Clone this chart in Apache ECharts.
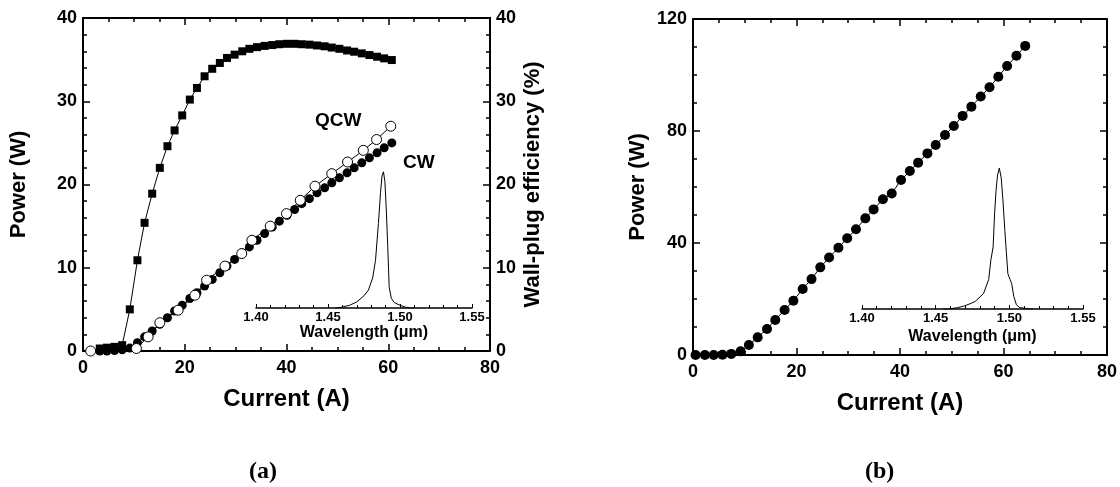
<!DOCTYPE html>
<html>
<head>
<meta charset="utf-8">
<script src="https://cdn.jsdelivr.net/npm/echarts@6/dist/echarts.min.js"></script>
<style>
  html, body { margin: 0; padding: 0; background: #fff; }
  #chart { width: 1120px; height: 487px; }
</style>
</head>
<body>
<div id="chart"></div>
<script>
// (a) wall-plug efficiency and CW power share the same currents
const cwCurrent = [3.3, 4.7, 6.2, 7.7, 9.2, 10.7, 12.1, 13.6, 15.1, 16.6, 18.0, 19.5, 21.0, 22.4, 23.9, 25.4, 26.9, 28.3, 29.8, 31.3,
  32.7, 34.2, 35.7, 37.2, 38.6, 40.1, 41.6, 43.0, 44.5, 46.0, 47.5, 48.9, 50.4, 51.9, 53.3, 54.8, 56.3, 57.8, 59.2, 60.7];
const effValues = [0.3, 0.4, 0.5, 0.7, 5.0, 10.9, 15.4, 18.9, 22.0, 24.6, 26.5, 28.3, 30.2, 31.6, 33.0, 33.9, 34.6, 35.2, 35.6, 36.0,
  36.3, 36.5, 36.65, 36.75, 36.85, 36.9, 36.9, 36.85, 36.8, 36.7, 36.6, 36.45, 36.3, 36.1, 35.95, 35.75, 35.55, 35.35, 35.15, 34.95];
const cwPower = [0, 0, 0.05, 0.15, 0.35, 1.0, 1.7, 2.4, 3.2, 4.0, 4.8, 5.5, 6.3, 7.0, 7.8, 8.6, 9.4, 10.2, 11.0, 11.8,
  12.5, 13.3, 14.1, 14.9, 15.6, 16.3, 17.0, 17.7, 18.3, 19.0, 19.6, 20.2, 20.8, 21.4, 22.0, 22.6, 23.2, 23.8, 24.4, 25.0];
const qcwCurrent = [1.5, 10.5, 12.8, 15.1, 18.7, 22.0, 24.3, 27.9, 31.2, 33.2, 36.8, 40.0, 42.7, 45.6, 48.9, 52.0, 55.1, 57.7, 60.5];
const qcwPower = [0, 0.3, 1.7, 3.4, 4.9, 6.7, 8.5, 10.2, 11.7, 13.3, 15.0, 16.5, 18.1, 19.8, 21.3, 22.7, 24.1, 25.4, 27.0];

// (a) inset spectrum
const specAWave = [1.455, 1.459, 1.465, 1.470, 1.475, 1.478, 1.481, 1.483, 1.485, 1.4865, 1.4875, 1.4885, 1.4895, 1.4905,
  1.4915, 1.4925, 1.494, 1.496, 1.500, 1.504, 1.507, 1.510];
const specAInt = [0, 0.005, 0.02, 0.045, 0.09, 0.13, 0.22, 0.35, 0.62, 0.85, 0.97, 1.0, 0.93, 0.72,
  0.45, 0.15, 0.07, 0.04, 0.02, 0.005, 0, 0];

// (b) power vs current
const bCurrent = [0.5, 2.3, 4.0, 5.7, 7.4, 9.2, 10.8, 12.5, 14.3, 15.9, 17.7, 19.4, 21.2, 22.9, 24.6, 26.3, 28.1, 29.8, 31.5,
  33.3, 34.9, 36.7, 38.4, 40.2, 41.9, 43.5, 45.3, 46.9, 48.7, 50.4, 52.1, 53.8, 55.6, 57.3, 59.0, 60.7, 62.5, 64.2];
const bPower = [0, 0, 0, 0.1, 0.4, 1.3, 3.6, 6.3, 9.3, 12.5, 16.1, 19.4, 23.6, 27.1, 31.3, 34.8, 38.3, 41.7, 44.9,
  48.8, 52.0, 55.6, 57.7, 62.5, 65.7, 68.7, 72.0, 75.0, 78.6, 81.8, 85.4, 88.7, 92.3, 95.6, 99.4, 103.2, 106.9, 110.4];

// (b) inset spectrum
const specBWave = [1.455, 1.459, 1.465, 1.469, 1.474, 1.477, 1.4825, 1.486, 1.4875, 1.489, 1.490, 1.491, 1.492, 1.4932,
  1.4945, 1.4956, 1.497, 1.498, 1.499, 1.5005, 1.5016, 1.503, 1.5048, 1.507, 1.5135, 1.516];
const specBInt = [0, 0, 0.01, 0.02, 0.04, 0.055, 0.11, 0.21, 0.35, 0.44, 0.68, 0.84, 0.95, 1.0,
  0.93, 0.78, 0.55, 0.40, 0.25, 0.21, 0.18, 0.09, 0.03, 0.01, 0, 0];

const xTicks = [0, 20, 40, 60, 80];
const font = "'Liberation Sans', Arial, sans-serif";

const zip = (a, b) => a.map((v, i) => [v, b[i]]);

// onZero off, otherwise the top / right axes get pulled onto the 0 line
const boxLine = { show: true, onZero: false, lineStyle: { color: "#000", width: 2 } };
const tick = { show: true, inside: true, length: 7, lineStyle: { color: "#000", width: 1.5 } };
const minor = (n) => ({ show: true, splitNumber: n, length: 4, lineStyle: { color: "#000", width: 1.5 } });
const tickLabel = { color: "#000", fontSize: 18, fontWeight: "bold", fontFamily: font };
const nameStyle = { color: "#000", fontSize: 22, fontWeight: "bold", fontFamily: font };

function mainX(grid, pos, showLabel, name) {
  return {
    type: "value", gridIndex: grid, position: pos, min: xTicks[0], max: xTicks[xTicks.length - 1], interval: 20,
    axisLine: boxLine, axisTick: tick, minorTick: minor(4), splitLine: { show: false },
    axisLabel: Object.assign({ show: showLabel, margin: 8 }, tickLabel),
    name: name, nameLocation: "middle", nameGap: 36,
    nameTextStyle: Object.assign({}, nameStyle, { fontSize: 24 }),
  };
}
function mainY(grid, pos, max, interval, minorSplit, showLabel, name, gap) {
  return {
    type: "value", gridIndex: grid, position: pos, min: 0, max: max, interval: interval,
    axisLine: boxLine, axisTick: tick, minorTick: minor(minorSplit), splitLine: { show: false },
    axisLabel: Object.assign({ show: showLabel, margin: 6 }, tickLabel),
    name: name, nameLocation: "middle", nameRotate: 90, nameGap: gap, nameTextStyle: nameStyle,
  };
}
function insetX(grid, gap) {
  return {
    type: "value", gridIndex: grid, min: 1.4, max: 1.55, interval: 0.05,
    axisLine: { show: true, onZero: false, lineStyle: { color: "#000", width: 1.5 } },
    axisTick: { show: true, inside: true, length: 4, lineStyle: { color: "#000", width: 1 } },
    minorTick: { show: true, splitNumber: 5, length: 3, lineStyle: { color: "#000", width: 1 } },
    splitLine: { show: false },
    axisLabel: { color: "#000", fontSize: 13, fontWeight: "bold", fontFamily: font, margin: 3,
      formatter: (v) => v.toFixed(2) },
    name: "Wavelength (\u03bcm)", nameLocation: "middle", nameGap: gap,
    nameTextStyle: { color: "#000", fontSize: 16, fontWeight: "bold", fontFamily: font },
  };
}
const insetY = (grid) => ({ type: "value", gridIndex: grid, min: 0, max: 1.05, show: false });

const chart = echarts.init(document.getElementById("chart"));
chart.setOption({
  animation: false,
  grid: [
    { left: 83, top: 18, width: 407, height: 333 },
    { left: 256, top: 165, width: 216, height: 143 },
    { left: 693, top: 19, width: 417, height: 336 },
    { left: 862, top: 161, width: 221, height: 148 },
  ],
  xAxis: [
    mainX(0, "bottom", true, "Current (A)"),
    mainX(0, "top", false, ""),
    insetX(1, 17),
    mainX(2, "bottom", true, "Current (A)"),
    mainX(2, "top", false, ""),
    insetX(3, 20),
  ],
  yAxis: [
    mainY(0, "left", 40, 10, 5, true, "Power (W)", 53),
    mainY(0, "right", 40, 10, 5, true, "Wall-plug efficiency (%)", 32),
    insetY(1),
    mainY(2, "left", 120, 40, 4, true, "Power (W)", 44),
    mainY(2, "right", 120, 40, 4, false, ""),
    insetY(3),
  ],
  series: [
    {
      name: "Efficiency", type: "line", xAxisIndex: 0, yAxisIndex: 1, data: zip(cwCurrent, effValues),
      symbol: "rect", symbolSize: 8, itemStyle: { color: "#000" }, lineStyle: { color: "#000", width: 1 },
    },
    {
      name: "CW", type: "line", xAxisIndex: 0, yAxisIndex: 0, data: zip(cwCurrent, cwPower),
      symbol: "circle", symbolSize: 9, itemStyle: { color: "#000" }, lineStyle: { color: "#000", width: 1 },
    },
    {
      name: "QCW", type: "line", xAxisIndex: 0, yAxisIndex: 0, data: zip(qcwCurrent, qcwPower), z: 3,
      symbol: "circle", symbolSize: 10, itemStyle: { color: "#fff", borderColor: "#000", borderWidth: 1 },
      lineStyle: { color: "#000", width: 1 },
    },
    {
      name: "Spectrum a", type: "line", xAxisIndex: 2, yAxisIndex: 2, data: zip(specAWave, specAInt),
      symbol: "none", lineStyle: { color: "#000", width: 1 },
    },
    {
      name: "Power b", type: "line", xAxisIndex: 3, yAxisIndex: 3, data: zip(bCurrent, bPower),
      symbol: "circle", symbolSize: 10, itemStyle: { color: "#000" }, lineStyle: { color: "#000", width: 1 },
    },
    {
      name: "Spectrum b", type: "line", xAxisIndex: 5, yAxisIndex: 5, data: zip(specBWave, specBInt),
      symbol: "none", lineStyle: { color: "#000", width: 1 },
    },
  ],
  graphic: [
    { type: "text", left: 315, top: 111, style: { text: "QCW", font: "bold 19px " + font, fill: "#000" } },
    { type: "text", left: 403, top: 153, style: { text: "CW", font: "bold 19px " + font, fill: "#000" } },
    { type: "text", left: 249, top: 460, style: { text: "(a)", font: "bold 24px 'Liberation Serif', serif", fill: "#000" } },
    { type: "text", left: 865, top: 460, style: { text: "(b)", font: "bold 24px 'Liberation Serif', serif", fill: "#000" } },
  ],
});
</script>
</body>
</html>
